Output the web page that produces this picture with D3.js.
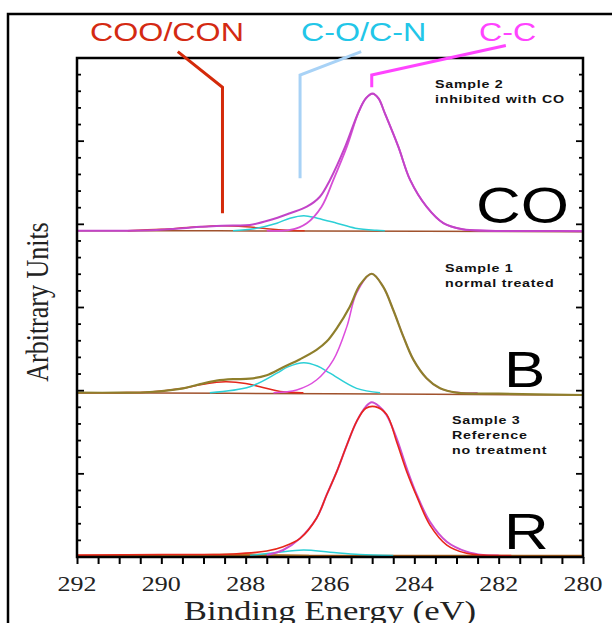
<!DOCTYPE html>
<html>
<head>
<meta charset="utf-8">
<script src="https://cdn.jsdelivr.net/npm/d3@7"></script>
<style>
  body { margin: 0; background: #fff; }
  svg { display: block; }
</style>
</head>
<body>
<div id="chart"></div>
<script>
// Binding energy axis (eV), reversed as in XPS plots
const energyTicks = [292, 290, 288, 286, 284, 282, 280];
const panelNames = ["CO", "B", "R"];
// baseline of each stacked spectrum in arbitrary units
const panelOffsets = [19.62, 9.88, 0.09];
const sampleNotes = [
  ["Sample 2", "inhibited with CO"],
  ["Sample 1", "normal treated"],
  ["Sample 3", "Reference", "no treatment"],
];

// ---- CO panel (sample 2) : [eV, intensity]
const coEnvelope = [[292, 0], [291, 0], [290.27, 0.02], [289.5, 0.14], [289.08, 0.24], [288.69, 0.28], [288.3, 0.31],
  [287.9, 0.34], [287.42, 0.64], [286.95, 1.05], [286.55, 1.44], [286.24, 2.04], [286.0, 3.05], [285.64, 5.05],
  [285.33, 7.1], [285.15, 7.95], [284.99, 8.25], [284.85, 7.95], [284.7, 7.06], [284.38, 5.05], [284.1, 3.05],
  [283.71, 1.44], [283.31, 0.45], [282.85, 0.08], [282.3, 0.0], [281, -0.02], [280, -0.03]];
const coCC = [[287.5, 0], [286.95, 0.04], [286.55, 0.45], [286.2, 1.44], [285.92, 3.05], [285.6, 5.05],
  [285.33, 7.06], [285.15, 7.95], [284.99, 8.22], [284.85, 7.95], [284.7, 7.06], [284.38, 5.05], [284.1, 3.05],
  [283.71, 1.44], [283.31, 0.45], [282.85, 0.08], [282.3, 0], [281, -0.02], [280, -0.03]];
const coCO = [[288.3, 0], [287.8, 0.12], [287.26, 0.45], [286.95, 0.75], [286.62, 0.9], [286.3, 0.75],
  [285.84, 0.45], [285.4, 0.15], [284.9, 0.02], [284.7, 0]];
const coCOO = [[290.8, 0], [290.0, 0.08], [289.3, 0.2], [288.6, 0.3], [288.0, 0.24], [287.5, 0.12],
  [287.0, 0.03], [286.6, 0]];
const coBase = [[292, 0], [286.5, -0.02], [280, -0.06]];

// ---- B panel (sample 1)
const bEnvelope = [[292, 0], [291, 0.0], [290.27, 0.04], [289.48, 0.26], [289.08, 0.51], [288.69, 0.72],
  [288.29, 0.81], [287.9, 0.84], [287.5, 1.05], [287.11, 1.53], [286.71, 2.01], [286.32, 2.57], [286.08, 3.07],
  [285.84, 3.87], [285.53, 5.17], [285.29, 6.48], [285.01, 7.15], [284.74, 6.37], [284.5, 4.97], [284.26, 3.37],
  [284.02, 1.97], [283.71, 0.87], [283.39, 0.26], [283.0, 0.0], [282, -0.06], [280, -0.14]];
const bCC = [[287.34, 0], [286.79, 0.16], [286.32, 0.76], [285.92, 1.97], [285.6, 3.97], [285.37, 5.98],
  [285.01, 7.15], [284.74, 6.37], [284.5, 4.97], [284.26, 3.37], [284.02, 1.97], [283.71, 0.87], [283.39, 0.26],
  [283.0, 0.02], [282.5, 0]];
const bCO = [[288.85, 0], [287.9, 0.36], [287.26, 1.17], [287.0, 1.55], [286.62, 1.8], [286.3, 1.6],
  [286.0, 1.17], [285.37, 0.26], [284.81, 0]];
const bCOO = [[292, 0], [291, 0.0], [290.27, 0.04], [289.48, 0.26], [289.08, 0.48], [288.69, 0.63],
  [288.45, 0.66], [288.0, 0.55], [287.66, 0.36], [287.11, 0.05], [286.63, 0]];
const bBase = [[292, 0], [286, -0.07], [280, -0.14]];

// ---- R panel (sample 3, reference)
const rEnvelope = [[292, 0.02], [290, 0.06], [288.29, 0.09], [287.5, 0.27], [287.11, 0.53], [286.71, 1.03],
  [286.32, 2.24], [286.08, 3.64], [285.84, 5.04], [285.6, 6.64], [285.37, 8.05], [285.15, 8.85], [284.93, 8.95],
  [284.66, 8.49], [284.42, 6.84], [284.18, 5.04], [283.94, 3.54], [283.63, 1.83], [283.23, 0.63], [282.76, 0.13],
  [282.37, 0.02], [281.7, 0]];
const rCC = [[287.5, 0.03], [287.11, 0.33], [286.71, 1.03], [286.32, 2.24], [286.08, 3.64], [285.84, 5.04],
  [285.6, 6.64], [285.37, 8.05], [285.15, 8.95], [285.01, 9.21], [284.85, 9.0], [284.66, 8.45], [284.42, 7.05],
  [284.18, 5.24], [283.94, 3.64], [283.63, 2.03], [283.23, 0.83], [282.76, 0.23], [282.37, 0.03], [282.0, 0]];
const rCO = [[287.9, 0], [287.3, 0.17], [286.63, 0.33], [286.0, 0.2], [285.3, 0.06], [284.5, 0]];
const rCOO = [[290, 0], [289, 0.05], [288.3, 0.08], [287.5, 0.05], [286.5, 0]];
const rBase = [[292, 0], [280, 0]];

const series = [
  { panel: 0, data: coBase, color: "#a0522d", width: 1.5 },
  { panel: 0, data: coCOO, color: "#d9381e", width: 1.5 },
  { panel: 0, data: coCO, color: "#2ccfd6", width: 1.5 },
  { panel: 0, data: coCC, color: "#d64fd6", width: 1.8 },
  { panel: 0, data: coEnvelope, color: "#c244c8", width: 2 },
  { panel: 1, data: bBase, color: "#a0522d", width: 1.5 },
  { panel: 1, data: bCOO, color: "#e3271b", width: 1.5 },
  { panel: 1, data: bCO, color: "#2ccfd6", width: 1.5 },
  { panel: 1, data: bCC, color: "#dd4ddd", width: 1.5 },
  { panel: 1, data: bEnvelope, color: "#8f7f2c", width: 2.2 },
  { panel: 2, data: rBase, color: "#b5651d", width: 1.5 },
  { panel: 2, data: rCOO, color: "#b8792a", width: 1.5 },
  { panel: 2, data: rCO, color: "#2ccfd6", width: 1.5 },
  { panel: 2, data: rCC, color: "#cc4fd0", width: 2 },
  { panel: 2, data: rEnvelope, color: "#e8261a", width: 1.6 },
];

// annotation labels with leader lines, leader points in [eV, intensity]
const peakLabels = [
  { text: "COO/CON", color: "#d42a12", x: 90, line: "#d42a0a", pts: [[289.61, 30.38], [288.55, 28.24], [288.55, 20.67]] },
  { text: "C-O/C-N", color: "#22c6e8", x: 301, line: "#a8d2f6", pts: [[285.26, 30.38], [286.71, 28.97], [286.71, 22.77]] },
  { text: "C-C", color: "#ff44ff", x: 479, line: "#ff44ff", pts: [[281.83, 30.75], [285.01, 28.98], [285.01, 28.24]] },
];

const W = 612, H = 623;
const margin = { top: 58, right: 29, bottom: 66, left: 77 };
const width = W - margin.left - margin.right;
const height = H - margin.top - margin.bottom;
const stretch = 1.24; // source picture is horizontally stretched

const svg = d3.select("#chart").append("svg").attr("width", W).attr("height", H);

// outer frame of the figure
svg.append("rect")
  .attr("x", 8).attr("y", 14).attr("width", 700).attr("height", 700)
  .attr("fill", "none").attr("stroke", "#000").attr("stroke-width", 2.5);

const g = svg.append("g").attr("transform", `translate(${margin.left},${margin.top})`);

const x = d3.scaleLinear().domain([292, 280]).range([0, width]);
const y = d3.scaleLinear().domain([0, 30]).range([height, 0]);

function stretchText(parent, px, py, str, font, size, weight, color, spacing) {
  return parent.append("text")
    .attr("transform", `translate(${px},${py}) scale(${stretch},1)`)
    .attr("font-family", font)
    .attr("font-size", size)
    .attr("font-weight", weight || "normal")
    .attr("letter-spacing", spacing || 0)
    .attr("fill", color)
    .text(str);
}

// spectra
const line = d3.line()
  .x((d) => x(d[0]))
  .y((d) => y(d[1]))
  .curve(d3.curveCatmullRom.alpha(0.5));

series.forEach((s) => {
  const pts = s.data
    .map((d) => [d[0], d[1] + panelOffsets[s.panel]])
    .sort((a, b) => b[0] - a[0]);
  g.append("path")
    .attr("d", line(pts))
    .attr("fill", "none")
    .attr("stroke", s.color)
    .attr("stroke-width", s.width)
    .attr("stroke-linejoin", "round");
});

// x axis, ticks every 0.5 eV, labels every 2 eV
const xAxis = d3.axisBottom(x)
  .tickValues(d3.range(292, 279.9, -0.5))
  .tickSize(7)
  .tickFormat("");
const xg = g.append("g").attr("transform", `translate(0,${height})`).call(xAxis);
xg.select(".domain").remove();
xg.selectAll("line").attr("stroke", "#000").attr("stroke-width", 2);

energyTicks.forEach((t) => {
  stretchText(g, x(t), height + 34, String(t), "Liberation Serif, Times New Roman, serif", 21, "normal", "#222")
    .attr("text-anchor", "middle");
});

// y ticks on both sides, pointing inward
const yTicks = d3.range(1, 30);
[0, width].forEach((side) => {
  g.selectAll(null)
    .data(yTicks)
    .enter()
    .append("line")
    .attr("x1", side)
    .attr("x2", (d) => side + (side === 0 ? 1 : -1) * (d % 5 === 0 ? 7 : 4))
    .attr("y1", (d) => y(d))
    .attr("y2", (d) => y(d))
    .attr("stroke", "#000")
    .attr("stroke-width", 1.8);
});

// plot frame
g.append("rect")
  .attr("width", width).attr("height", height)
  .attr("fill", "none").attr("stroke", "#000").attr("stroke-width", 2.5);

// panel letters and sample notes
const letterPos = [[476, 222.7], [504, 386.7], [504, 549]];
const notePos = [[435, 88], [445, 271.7], [452, 424]];
panelNames.forEach((name, i) => {
  stretchText(svg, letterPos[i][0], letterPos[i][1], name, "Liberation Sans, Arial, sans-serif", 50, "normal", "#000");
  sampleNotes[i].forEach((s, j) => {
    stretchText(svg, notePos[i][0], notePos[i][1] + j * 15, s, "Liberation Sans, Arial, sans-serif", 11.5, "bold", "#111", 0.6);
  });
});

// peak labels and leader lines
const leader = d3.line().x((d) => x(d[0])).y((d) => y(d[1]));
peakLabels.forEach((p) => {
  stretchText(svg, p.x, 40.5, p.text, "Liberation Sans, Arial, sans-serif", 26, "normal", p.color);
  g.append("path")
    .attr("d", leader(p.pts))
    .attr("fill", "none")
    .attr("stroke", p.line)
    .attr("stroke-width", 3);
});

// axis titles
svg.append("text")
  .attr("transform", `translate(48,302) scale(${stretch},1) rotate(-90)`)
  .attr("text-anchor", "middle")
  .attr("font-family", "Liberation Serif, Times New Roman, serif")
  .attr("font-size", 26)
  .attr("fill", "#222")
  .text("Arbitrary Units");

stretchText(svg, 330, 620, "Binding Energy (eV)", "Liberation Serif, Times New Roman, serif", 28, "normal", "#222")
  .attr("text-anchor", "middle");
</script>
</body>
</html>
